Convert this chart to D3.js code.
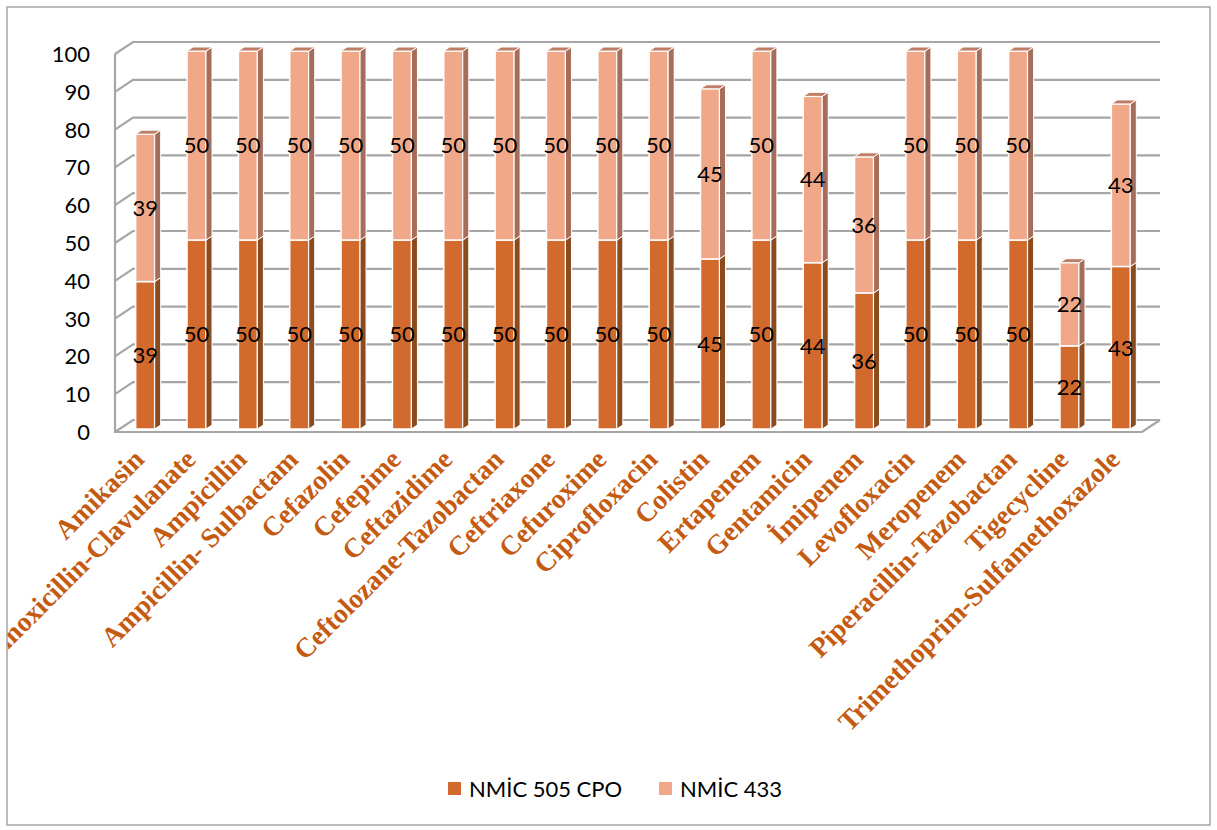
<!doctype html>
<html lang="en">
<head>
<meta charset="UTF-8" />
<title>NMİC 505 CPO vs NMİC 433</title>
<script src="https://cdn.jsdelivr.net/npm/d3@7"></script>
<style>
  body { margin: 0; background: #fff; }
  svg { display: block; }
</style>
</head>
<body>
<div id="chart"></div>
<script>
  // data
  const drugs = ["Amikasin", "Amoxicillin-Clavulanate", "Ampicillin", "Ampicillin- Sulbactam",
    "Cefazolin", "Cefepime", "Ceftazidime", "Ceftolozane-Tazobactan", "Ceftriaxone",
    "Cefuroxime", "Ciprofloxacin", "Colistin", "Ertapenem", "Gentamicin", "İmipenem",
    "Levofloxacin", "Meropenem", "Piperacillin-Tazobactan", "Tigecycline",
    "Trimethoprim-Sulfamethoxazole"];
  const nmic505 = [39, 50, 50, 50, 50, 50, 50, 50, 50, 50, 50, 45, 50, 44, 36, 50, 50, 50, 22, 43];
  const nmic433 = [39, 50, 50, 50, 50, 50, 50, 50, 50, 50, 50, 45, 50, 44, 36, 50, 50, 50, 22, 43];
  const seriesNames = ["NMİC 505 CPO", "NMİC 433"];
  const yTicks = [0, 10, 20, 30, 40, 50, 60, 70, 80, 90, 100];

  const width = 1217, height = 830;
  // front plane of the 3d box
  const plotLeft = 115, plotRight = 1142, plotTop = 54, plotBottom = 432;
  const depthX = 18, depthY = -12;      // wall depth
  const barOffX = 4.5, barOffY = -3;    // bar front plane
  const sideX = 6, sideY = -4;          // bar thickness

  const colFront = ["#d2692d", "#f0a889"];
  const colSide = ["#8c4b1e", "#a66e5a"];
  const colTop = "#be7d64";
  const gridCol = "#a6a6a6";

  const svg = d3.select("#chart").append("svg")
    .attr("width", width).attr("height", height);

  svg.append("clipPath").attr("id", "clip")
    .append("rect").attr("x", 7).attr("y", 7).attr("width", 1203).attr("height", 818);

  const g = svg.append("g").attr("clip-path", "url(#clip)");

  const x = d3.scaleBand().domain(drugs).range([plotLeft, plotRight]);
  const y = d3.scaleLinear().domain([0, 100]).range([plotBottom, plotTop]);

  // walls and gridlines
  const grid = g.append("g").attr("stroke", gridCol).attr("stroke-width", 2.2).attr("fill", "none");
  yTicks.forEach(t => {
    grid.append("path")
      .attr("d", `M${plotLeft},${y(t)} L${plotLeft + depthX},${y(t) + depthY} L${plotRight + depthX},${y(t) + depthY}`);
  });
  grid.append("path").attr("d", `M${plotLeft},${y(100)} L${plotLeft},${y(0)} L${plotRight},${y(0)} L${plotRight + depthX},${y(0) + depthY}`);

  // y axis labels
  g.append("g").selectAll("text").data(yTicks).join("text")
    .attr("x", 90).attr("y", d => y(d)).attr("dy", "0.36em")
    .attr("text-anchor", "end")
    .attr("font-family", "Lato, sans-serif").attr("font-size", 22)
    .attr("fill", "#000").text(d => d);

  // stacked 3d bars
  const bw = 19;
  const bars = g.append("g");
  drugs.forEach((name, i) => {
    const bx = x(name) + (x.bandwidth() - bw) / 2 + barOffX;
    const vals = [nmic505[i], nmic433[i]];
    let base = 0;
    vals.forEach((v, s) => {
      const y0 = y(base) + barOffY, y1 = y(base + v) + barOffY;
      bars.append("rect")
        .attr("x", bx).attr("y", y1).attr("width", bw).attr("height", y0 - y1)
        .attr("fill", colFront[s]).attr("stroke", "#fff").attr("stroke-width", 1.5);
      bars.append("path")
        .attr("d", `M${bx + bw},${y0} L${bx + bw + sideX},${y0 + sideY} L${bx + bw + sideX},${y1 + sideY} L${bx + bw},${y1}Z`)
        .attr("fill", colSide[s]).attr("stroke", "#fff").attr("stroke-width", 1);
      base += v;
    });
    const yt = y(base) + barOffY;
    bars.append("path")
      .attr("d", `M${bx},${yt} L${bx + sideX},${yt + sideY} L${bx + bw + sideX},${yt + sideY} L${bx + bw},${yt}Z`)
      .attr("fill", colTop).attr("stroke", "#fff").attr("stroke-width", 1);

    // value labels
    base = 0;
    vals.forEach(v => {
      g.append("text")
        .attr("x", bx + bw / 2).attr("y", y(base + v / 2) + barOffY).attr("dy", "0.36em")
        .attr("text-anchor", "middle")
        .attr("font-family", "Lato, sans-serif").attr("font-size", 22)
        .text(v);
      base += v;
    });
  });

  // category labels
  g.append("g").selectAll("text").data(drugs).join("text")
    .attr("transform", d => `translate(${x(d) + x.bandwidth() / 2 + 5},${461}) rotate(-45)`)
    .attr("text-anchor", "end")
    .attr("font-family", "'Liberation Serif', 'Times New Roman', serif")
    .attr("font-weight", "bold").attr("font-size", 27.5)
    .attr("fill", "#c55a11").text(d => d);

  // legend
  const legend = g.append("g").attr("font-family", "Lato, sans-serif").attr("font-size", 22);
  const legX = [448, 659];
  seriesNames.forEach((n, s) => {
    legend.append("rect").attr("x", legX[s]).attr("y", 782).attr("width", 13).attr("height", 13)
      .attr("fill", colFront[s]);
    legend.append("text").attr("x", legX[s] + 21).attr("y", 789).attr("dy", "0.36em").text(n);
  });

  // outer border
  svg.append("rect").attr("x", 7).attr("y", 7).attr("width", 1203).attr("height", 818)
    .attr("fill", "none").attr("stroke", "#a6a6a6").attr("stroke-width", 1.5);
</script>
</body>
</html>
